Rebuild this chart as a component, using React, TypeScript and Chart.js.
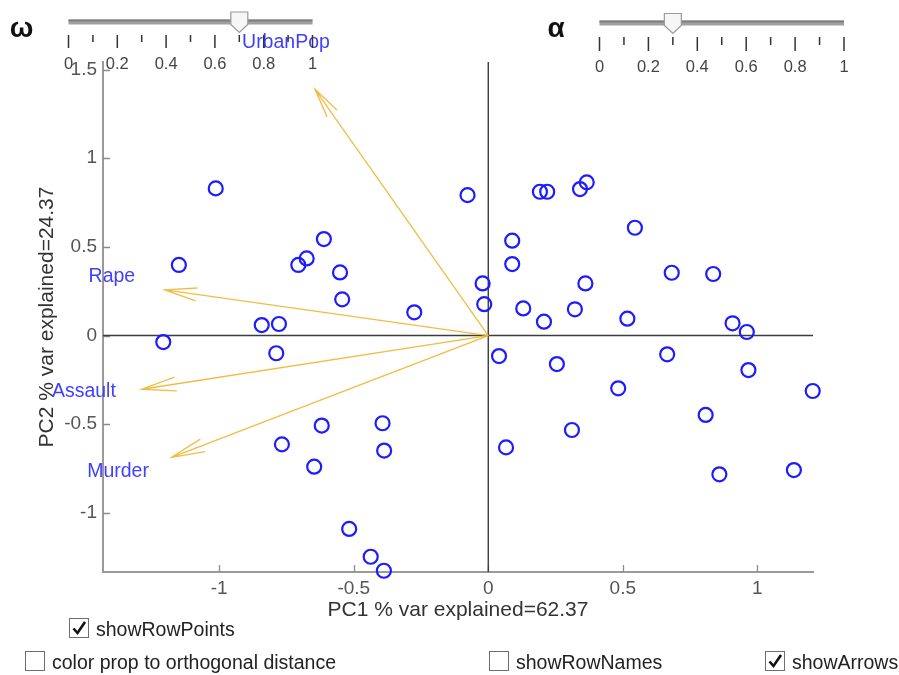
import React, { useEffect, useRef } from 'react';
import { Chart, registerables } from 'chart.js';

Chart.register(...registerables);

// ---- data ----
const pc1Scores = [
  -1.013, -1.15, -1.208, -0.842, -0.778, -0.788, -0.767, -0.706, -0.675, -0.611,
  -0.551, -0.543, -0.619, -0.647, -0.393, -0.387, -0.275, -0.517, -0.437, -0.388,
  -0.077, -0.021, -0.015, 0.04, 0.066, 0.089, 0.089, 0.13, 0.192, 0.219,
  0.207, 0.255, 0.322, 0.311, 0.341, 0.366, 0.361, 0.483, 0.517, 0.545,
  0.665, 0.682, 0.808, 0.836, 0.859, 0.908, 0.961, 0.967, 1.136, 1.206,
];
const pc2Scores = [
  0.83, 0.398, -0.037, 0.059, 0.065, -0.1, -0.614, 0.398, 0.435, 0.544,
  0.356, 0.204, -0.508, -0.74, -0.495, -0.649, 0.131, -1.091, -1.248, -1.327,
  0.792, 0.294, 0.177, -0.116, -0.631, 0.535, 0.403, 0.153, 0.811, 0.811,
  0.078, -0.161, 0.148, -0.533, 0.826, 0.864, 0.294, -0.298, 0.095, 0.608,
  -0.106, 0.354, -0.448, 0.347, -0.783, 0.069, 0.02, -0.195, -0.759, -0.313,
];
const variableNames = ['Murder', 'Assault', 'UrbanPop', 'Rape'];
const loadingPC1 = [-1.177, -1.288, -0.644, -1.202];
const loadingPC2 = [-0.687, -0.303, 1.389, 0.257];
const labelPC1 = [-1.376, -1.503, -0.752, -1.399];
const labelPC2 = [-0.768, -0.319, 1.655, 0.332];

const xTickValues = [-1, -0.5, 0, 0.5, 1];
const yTickValues = [-1, -0.5, 0, 0.5, 1, 1.5];
const xRange = [-1.432, 1.207];
const yRange = [-1.334, 1.543];
const xAxisTitle = 'PC1 % var explained=62.37';
const yAxisTitle = 'PC2 % var explained=24.37';

const sliderMajorTicks = [0, 0.2, 0.4, 0.6, 0.8, 1];
const sliderMinorTicks = [0.1, 0.3, 0.5, 0.7, 0.9];
const omegaValue = 0.7;
const alphaValue = 0.3;

const checkboxLabels = ['showRowPoints', 'color prop to orthogonal distance', 'showRowNames', 'showArrows'];
const checkboxStates = [true, false, false, true];

const FONT = "'Liberation Sans', Arial, Helvetica, sans-serif";

const biplotPlugin = {
  id: 'biplot',
  beforeDatasetsDraw(chart: any) {
    const { ctx, chartArea, scales } = chart;
    const x = scales.x;
    const y = scales.y;
    const x0 = x.getPixelForValue(0);
    const y0 = y.getPixelForValue(0);
    ctx.save();
    // inward tick marks
    ctx.strokeStyle = '#8c8c8c';
    ctx.lineWidth = 1.3;
    ctx.beginPath();
    xTickValues.forEach((v) => {
      const px = Math.round(x.getPixelForValue(v)) + 0.5;
      ctx.moveTo(px, chartArea.bottom);
      ctx.lineTo(px, chartArea.bottom - 7);
    });
    yTickValues.forEach((v) => {
      const py = Math.round(y.getPixelForValue(v)) + 0.5;
      ctx.moveTo(chartArea.left, py);
      ctx.lineTo(chartArea.left + 7, py);
    });
    ctx.stroke();
    // origin lines
    ctx.strokeStyle = '#3c3c3c';
    ctx.lineWidth = 1.4;
    ctx.beginPath();
    ctx.moveTo(x0, chartArea.top);
    ctx.lineTo(x0, chartArea.bottom);
    ctx.moveTo(chartArea.left, y0);
    ctx.lineTo(chartArea.right, y0);
    ctx.stroke();
    // arrows
    ctx.strokeStyle = 'rgba(240,182,52,0.92)';
    ctx.lineWidth = 1.3;
    variableNames.forEach((_, i) => {
      const tx = x.getPixelForValue(loadingPC1[i]);
      const ty = y.getPixelForValue(loadingPC2[i]);
      const dx = x0 - tx;
      const dy = y0 - ty;
      const dist = Math.sqrt(dx * dx + dy * dy);
      const a = Math.atan2(dy, dx);
      const len = dist * 0.1;
      const th = 0.2;
      ctx.beginPath();
      ctx.moveTo(x0, y0);
      ctx.lineTo(tx, ty);
      ctx.moveTo(tx + len * Math.cos(a + th), ty + len * Math.sin(a + th));
      ctx.lineTo(tx, ty);
      ctx.lineTo(tx + len * Math.cos(a - th), ty + len * Math.sin(a - th));
      ctx.stroke();
    });
    ctx.restore();
  },
  afterDatasetsDraw(chart: any) {
    const { ctx, scales } = chart;
    ctx.save();
    ctx.font = `19.5px ${FONT}`;
    ctx.fillStyle = '#3f3fff';
    ctx.textAlign = 'center';
    ctx.textBaseline = 'middle';
    variableNames.forEach((name, i) => {
      ctx.fillText(name, scales.x.getPixelForValue(labelPC1[i]), scales.y.getPixelForValue(labelPC2[i]));
    });
    ctx.restore();
  },
};

function Slider(props: {
  x0: number; x1: number; trackY: number; value: number; thumbTop: number; tipY: number;
  tickTop: number; majorLen: number; minorLen: number; labelY: number; symbol: string; symbolX: number;
}) {
  const { x0, x1, trackY, value, thumbTop, tipY, tickTop, majorLen, minorLen, labelY, symbol, symbolX } = props;
  const px = (v: number) => x0 + (x1 - x0) * v;
  const cx = px(value);
  const hw = 8.5;
  return (
    <g>
      <text x={symbolX} y={37} fontFamily={FONT} fontWeight="bold" fontSize={28} textAnchor="middle" fill="#111">
        {symbol}
      </text>
      <rect x={x0} y={trackY - 2.5} width={x1 - x0} height={5} fill="#a0a0a0" />
      <rect x={x0} y={trackY - 2.5} width={x1 - x0} height={2} fill="#7e7e7e" />
      <polygon
        points={`${cx - hw},${thumbTop} ${cx + hw},${thumbTop} ${cx + hw},${tipY - 8} ${cx},${tipY} ${cx - hw},${tipY - 8}`}
        fill="#f6f6f6"
        stroke="#9a9a9a"
        strokeWidth={1.2}
      />
      {sliderMajorTicks.map((v) => (
        <line key={'M' + v} x1={px(v)} x2={px(v)} y1={tickTop} y2={tickTop + majorLen} stroke="#333" strokeWidth={1.5} />
      ))}
      {sliderMinorTicks.map((v) => (
        <line key={'m' + v} x1={px(v)} x2={px(v)} y1={tickTop} y2={tickTop + minorLen} stroke="#333" strokeWidth={1.5} />
      ))}
      {sliderMajorTicks.map((v) => (
        <text key={'L' + v} x={px(v)} y={labelY} fontFamily={FONT} fontSize={16.5} fill="#444" textAnchor="middle" dominantBaseline="central">
          {String(v)}
        </text>
      ))}
    </g>
  );
}

function CheckBox(props: { x: number; y: number; checked: boolean; label: string }) {
  const { x, y, checked, label } = props;
  return (
    <g>
      <rect x={x + 0.5} y={y + 0.5} width={19} height={19} fill="#fff" stroke="#6e6e6e" strokeWidth={1} />
      {checked && (
        <path d={`M${x + 4.5},${y + 10.5} L${x + 8.5},${y + 15} L${x + 16},${y + 4}`} fill="none" stroke="#111" strokeWidth={2.6} strokeLinejoin="miter" />
      )}
      <text x={x + 27} y={y + 10.5} fontFamily={FONT} fontSize={19.5} fill="#222" dominantBaseline="central">
        {label}
      </text>
    </g>
  );
}

export default function App() {
  const canvasRef = useRef<HTMLCanvasElement | null>(null);

  useEffect(() => {
    if (!canvasRef.current) return;
    Chart.defaults.font.family = FONT;
    const points = pc1Scores.map((v, i) => ({ x: v, y: pc2Scores[i] }));
    const chart = new Chart(canvasRef.current, {
      type: 'scatter',
      data: {
        datasets: [
          {
            data: points,
            pointRadius: 7,
            pointHoverRadius: 7,
            borderWidth: 2.2,
            borderColor: '#1c1cff',
            backgroundColor: 'rgba(0,0,0,0)',
            pointStyle: 'circle',
            clip: false,
          } as any,
        ],
      },
      options: {
        animation: false,
        responsive: false,
        events: [],
        layout: { padding: { left: 0, top: 62, right: 86, bottom: 0 } },
        plugins: { legend: { display: false }, tooltip: { enabled: false } },
        scales: {
          x: {
            type: 'linear',
            min: xRange[0],
            max: xRange[1],
            afterBuildTicks: (s: any) => {
              s.ticks = xTickValues.map((v) => ({ value: v }));
            },
            afterFit: (s: any) => {
              s.height = 103;
            },
            grid: { display: false, drawTicks: false, tickLength: 0 },
            border: { display: true, color: '#9a9a9a', width: 2 },
            ticks: {
              color: '#555',
              font: { size: 19 },
              padding: 5,
              maxRotation: 0,
              autoSkip: false,
              callback: (v: any) => String(v),
            },
            title: {
              display: true,
              text: xAxisTitle,
              color: '#333',
              font: { size: 21 },
              padding: { top: 0, bottom: 52 },
            },
          },
          y: {
            type: 'linear',
            min: yRange[0],
            max: yRange[1],
            afterBuildTicks: (s: any) => {
              s.ticks = yTickValues.map((v) => ({ value: v }));
            },
            afterFit: (s: any) => {
              s.width = 103;
            },
            grid: { display: false, drawTicks: false, tickLength: 0 },
            border: { display: true, color: '#9a9a9a', width: 2 },
            ticks: {
              color: '#555',
              font: { size: 19 },
              padding: 6,
              autoSkip: false,
              callback: (v: any) => String(v),
            },
            title: {
              display: true,
              text: yAxisTitle,
              color: '#333',
              font: { size: 21 },
              padding: { top: 35, bottom: 0 },
            },
          },
        },
      },
      plugins: [biplotPlugin],
    });
    return () => chart.destroy();
  }, []);

  return (
    <div style={{ position: 'fixed', left: 0, top: 0, width: 899, height: 675, background: '#fff', overflow: 'hidden' }}>
      <canvas ref={canvasRef} width={899} height={675} style={{ position: 'absolute', left: 0, top: 0 }} />
      <svg width={899} height={675} style={{ position: 'absolute', left: 0, top: 0, pointerEvents: 'none' }}>
        <Slider x0={68.5} x1={312.5} trackY={22} value={omegaValue} thumbTop={12} tipY={32.5} tickTop={35} majorLen={13} minorLen={7} labelY={62.5} symbol="ω" symbolX={21.5} />
        <Slider x0={599.5} x1={844} trackY={23} value={alphaValue} thumbTop={13.5} tipY={33.5} tickTop={37} majorLen={14} minorLen={8} labelY={65.5} symbol="α" symbolX={556} />
        <CheckBox x={69} y={618} checked={checkboxStates[0]} label={checkboxLabels[0]} />
        <CheckBox x={25} y={651} checked={checkboxStates[1]} label={checkboxLabels[1]} />
        <CheckBox x={489} y={651} checked={checkboxStates[2]} label={checkboxLabels[2]} />
        <CheckBox x={765} y={651} checked={checkboxStates[3]} label={checkboxLabels[3]} />
      </svg>
    </div>
  );
}
